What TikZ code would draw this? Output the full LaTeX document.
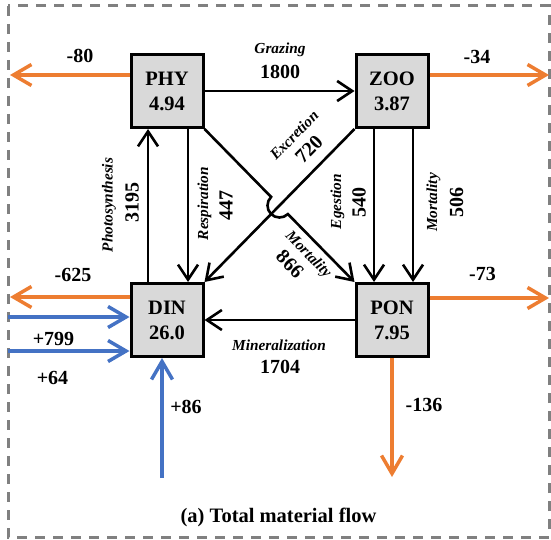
\documentclass[tikz,border=0pt]{standalone}
\usepackage{fontspec}
\setmainfont{Liberation Serif}
\usetikzlibrary{arrows.meta,calc}
\definecolor{orng}{HTML}{ED7D31}
\definecolor{blu}{HTML}{4472C4}
\definecolor{boxgray}{HTML}{D9D9D9}
\definecolor{framegray}{HTML}{808080}
\begin{document}
\begin{tikzpicture}[x=1pt,y=-1pt,
  pool/.style={draw, line width=3pt, fill=boxgray, minimum width=72pt, minimum height=73pt, inner sep=0pt, align=center, font=\fontsize{20.5}{25}\selectfont\bfseries},
  flow/.style={line width=2.6pt, -{Straight Barb[length=15pt,width=20pt]}},
  lossarrow/.style={line width=3.5pt, draw=orng, -{Straight Barb[length=18pt,width=21pt]}},
  gainarrow/.style={line width=3.5pt, draw=blu, -{Straight Barb[length=18pt,width=21pt]}},
  num/.style={font=\fontsize{20}{22}\selectfont\bfseries, inner sep=0pt},
  proc/.style={font=\fontsize{15.3}{17}\selectfont\bfseries\itshape, inner sep=0pt},
  capt/.style={font=\fontsize{20.5}{23}\selectfont\bfseries, inner sep=0pt}
]
\useasboundingbox (0,0) rectangle (551,540);
\draw[framegray, line width=3pt, dash pattern=on 10pt off 8pt] (8,6) rectangle (549,537);

% pools
\node[pool] (PHY) at (167,91) {PHY\\4.94};
\node[pool] (ZOO) at (392,91) {ZOO\\3.87};
\node[pool] (DIN) at (167,320) {DIN\\26.0};
\node[pool] (PON) at (392,320) {PON\\7.95};

% free ends
\coordinate (e80) at (10,75);
\coordinate (e34) at (549,75);
\coordinate (e625) at (10,297);
\coordinate (e73) at (549,298);
\coordinate (e136) at (392,477);
\coordinate (s799) at (8,317);
\coordinate (s64) at (8,351);
\coordinate (s86) at (162,478);

% internal flows
\draw[flow] (PHY.east) -- (ZOO.west);
\draw[flow] (PON.west) -- (DIN.east);
\draw[flow] ([xshift=-19pt]DIN.north) -- ([xshift=-19pt]PHY.south);
\draw[flow] ([xshift=21pt]PHY.south) -- ([xshift=21pt]DIN.north);
\draw[flow] ([xshift=-18pt]ZOO.south) -- ([xshift=-18pt]PON.north);
\draw[flow] ([xshift=21pt]ZOO.south) -- ([xshift=21pt]PON.north);
\draw[flow] (ZOO.south west) -- (DIN.north east);
\coordinate (X) at (intersection of PHY.south east--PON.north west and ZOO.south west--DIN.north east);
\draw[flow] (PHY.south east) -- ($(X)!12pt!(PHY.south east)$) arc[start angle=134.4, end angle=314.4, radius=12pt] -- (PON.north west);

% losses
\draw[lossarrow] ([yshift=16pt]PHY.west) -- (e80);
\draw[lossarrow] ([yshift=16pt]ZOO.east) -- (e34);
\draw[lossarrow] ([yshift=23pt]DIN.west) -- (e625);
\draw[lossarrow] ([yshift=22pt]PON.east) -- (e73);
\draw[lossarrow] (PON.south) -- (e136);

% gains
\draw[gainarrow] (s799) -- (s799 -| DIN.west);
\draw[gainarrow] (s64) -- (s64 -| DIN.west);
\draw[gainarrow] (s86) -- (s86 |- DIN.south);

% labels
\node[proc] (lgraz) at (280,50) {Grazing};
\node[num] (ngraz) at (280,72) {1800};
\node[num] (n80) at (80,56) {-80};
\node[num] (n34) at (477,57) {-34};
\node[num] (n625) at (73,274.5) {-625};
\node[num] (n799) at (53.5,339) {+799};
\node[num] (n64) at (52.5,378) {+64};
\node[num] (n86) at (186,407) {+86};
\node[num] (n73) at (482.5,274) {-73};
\node[num] (n136) at (424,404.5) {-136};
\node[proc] (lmin) at (279,345) {Mineralization};
\node[num] (nmin) at (280,367) {1704};
\node[proc, rotate=90] (lpho) at (109,205) {Photosynthesis};
\node[num, rotate=90] (npho) at (132,202.5) {3195};
\node[proc, rotate=90] (lres) at (204.5,203.5) {Respiration};
\node[num, rotate=90] (nres) at (226,205) {447};
\node[proc, rotate=90] (lege) at (337.5,201.5) {Egestion};
\node[num, rotate=90] (nege) at (359,202.5) {540};
\node[proc, rotate=90] (lmz) at (433.5,202.5) {Mortality};
\node[num, rotate=90] (nmz) at (456.5,202.5) {506};
\node[proc, rotate=45.6] (lexc) at (294,135) {Excretion};
\node[num, rotate=45.6] (nexc) at (309,149) {720};
\node[proc, rotate=-45.6] (lmp) at (308,255) {Mortality};
\node[num, rotate=-45.6] (nmp) at (290,264) {866};
\node[capt] (cap) at (278.5,517.5) {(a) Total material flow};
\end{tikzpicture}
\end{document}
